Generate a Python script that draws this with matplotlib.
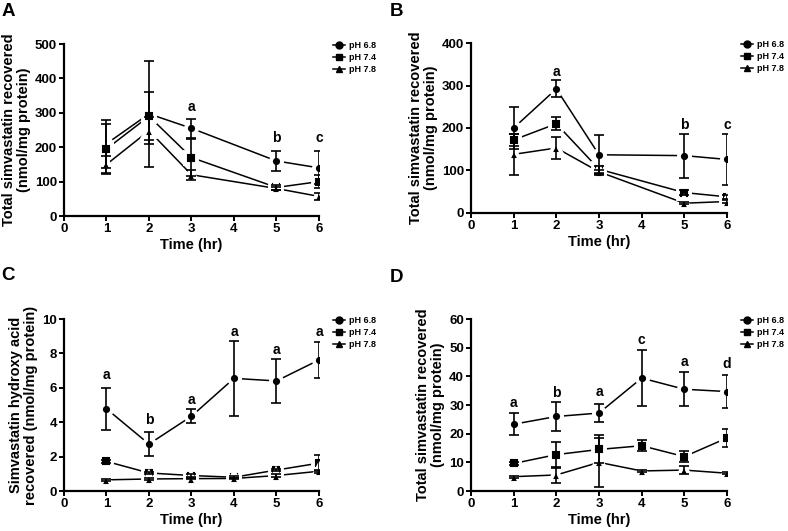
import matplotlib
matplotlib.use("Agg")
import matplotlib.pyplot as plt

plt.rcParams['font.family'] = ['Liberation Sans', 'DejaVu Sans']
plt.rcParams['font.weight'] = 'bold'

# time points per panel
time_ab = [1, 2, 3, 5, 6]
time_cd = [1, 2, 3, 4, 5, 6]

series_names = ["pH 6.8", "pH 7.4", "pH 7.8"]
markers = ["o", "s", "^"]

# panel A
a_mean = [[210, 297, 255, 160, 140],
          [195, 290, 170, 83, 100],
          [150, 248, 120, 80, 57]]
a_err = [[70, 155, 28, 28, 48],
         [72, 70, 55, 8, 18],
         [25, 40, 14, 5, 10]]
a_letters = [(3, 318, "a"), (5, 226, "b"), (6, 226, "c")]

# panel B
b_mean = [[200, 292, 137, 135, 126],
          [172, 210, 103, 48, 38],
          [138, 153, 97, 23, 27]]
b_err = [[50, 20, 47, 52, 60],
         [15, 15, 8, 5, 5],
         [48, 25, 5, 3, 4]]
b_letters = [(2, 332, "a"), (5, 208, "b"), (6, 208, "c")]

# panel C
c_mean = [[4.78, 2.73, 4.35, 6.55, 6.40, 7.62],
          [1.72, 1.05, 0.90, 0.80, 1.22, 1.62],
          [0.65, 0.70, 0.72, 0.73, 0.90, 1.15]]
c_err = [[1.23, 0.72, 0.42, 2.18, 1.28, 1.05],
         [0.10, 0.08, 0.08, 0.06, 0.08, 0.45],
         [0.05, 0.05, 0.05, 0.05, 0.08, 0.10]]
c_letters = [(1, 6.74, "a"), (2, 4.12, "b"), (3, 5.28, "a"),
             (4, 9.26, "a"), (5, 8.19, "a"), (6, 9.26, "a")]

# panel D
d_mean = [[23.3, 26.0, 27.2, 39.4, 35.5, 34.7],
          [9.6, 12.7, 14.5, 15.8, 12.0, 18.5],
          [5.0, 5.6, 10.0, 7.0, 7.3, 6.2]]
d_err = [[3.8, 4.9, 3.2, 9.8, 5.9, 5.8],
         [0.5, 4.5, 4.9, 2.0, 2.0, 3.3],
         [0.3, 2.9, 8.5, 0.5, 1.5, 0.3]]
d_letters = [(1, 30.6, "a"), (2, 34.3, "b"), (3, 34.6, "a"),
             (4, 52.6, "c"), (5, 45.0, "a"), (6, 44.2, "d")]

ylab_total = "Total simvastatin recovered\n(nmol/mg protein)"
ylab_acid = "Simvastatin hydroxy acid\nrecovered (nmol/mg protein)"

panels = [
    ("A", [0.0812, 0.5932, 0.3236, 0.3239], time_ab, a_mean, a_err, a_letters, 500, 100, ylab_total),
    ("B", [0.5977, 0.5989, 0.3249, 0.3201], time_ab, b_mean, b_err, b_letters, 400, 100, ylab_total),
    ("C", [0.0812, 0.0753, 0.3236, 0.3239], time_cd, c_mean, c_err, c_letters, 10, 2, ylab_acid),
    ("D", [0.5977, 0.0753, 0.3249, 0.3239], time_cd, d_mean, d_err, d_letters, 60, 10, ylab_total),
]
letter_pos = {"A": (0.002, 0.995), "B": (0.495, 0.995), "C": (0.002, 0.497), "D": (0.495, 0.493)}

fig = plt.figure(figsize=(7.88, 5.31), dpi=100)

for name, rect, t, means, errs, letters, ymax, ystep, ylab in panels:
    ax = fig.add_axes(rect)
    handles = []
    for i in range(3):
        ax.plot(t, means[i], color="black", lw=1.1, zorder=1)
        # white edge leaves the small gap between line and marker
        ax.plot(t, means[i], linestyle="none", marker=markers[i], ms=8,
                color="black", mec="white", mew=2.8, zorder=2)
        ax.errorbar(t, means[i], yerr=errs[i], fmt="none", ecolor="black",
                    elinewidth=1.2, capsize=3.4, capthick=1.2, zorder=3)
        h, = ax.plot([], [], color="black", lw=1.1, marker=markers[i], ms=5,
                     label=series_names[i])
        handles.append(h)
    for x, y, s in letters:
        ax.text(x, y, s, ha="center", va="center", fontsize=10, fontweight="bold")
    ax.set_xlim(0, 6)
    ax.set_ylim(0, ymax)
    ax.set_xticks(range(0, 7))
    ax.set_yticks(range(0, ymax + 1, ystep))
    for sp in ["top", "right"]:
        ax.spines[sp].set_visible(False)
    for sp in ["left", "bottom"]:
        ax.spines[sp].set_linewidth(1.6)
    ax.tick_params(direction="out", length=3.5, width=1.4, labelsize=9.5, pad=1.5)
    for lab in ax.get_xticklabels() + ax.get_yticklabels():
        lab.set_fontweight("bold")
    ax.set_xlabel("Time (hr)", fontsize=10.5, fontweight="bold", labelpad=2)
    ax.set_ylabel(ylab, fontsize=10.5, fontweight="bold", labelpad=3, linespacing=1.1)
    ax.legend(handles=handles, loc="upper left", bbox_to_anchor=(1.04, 1.04),
              frameon=False, fontsize=6.5, handlelength=1.3, handletextpad=0.5,
              labelspacing=0.35, borderaxespad=0)
    lx, ly = letter_pos[name]
    fig.text(lx, ly, name, ha="left", va="top", fontsize=13.5, fontweight="bold")

fig.savefig("out.png", dpi=100)
